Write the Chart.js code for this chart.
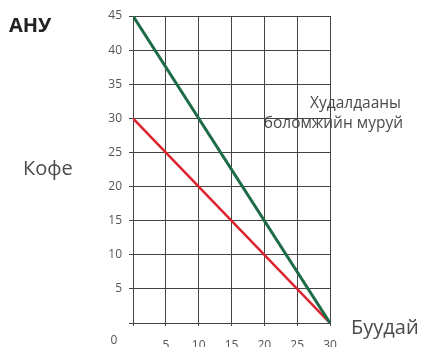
<!DOCTYPE html>
<html>
<head>
<meta charset="utf-8">
<script src="https://cdn.jsdelivr.net/npm/chart.js@4/dist/chart.umd.min.js"></script>
<style>
html,body{margin:0;padding:0;background:#fff;}
#wrap{width:423px;height:347px;position:relative;}
</style>
</head>
<body>
<div id="wrap"><canvas id="c" width="423" height="347"></canvas></div>
<script>
// Data
const wheat = [0, 30];                 // Буудай (x)
const tradeCurve = [45, 0];            // Худалдааны боломжийн муруй (green)
const ppfCurve = [30, 0];              // red line
const xTicks = [0, 5, 10, 15, 20, 25, 30];
const yTicks = [0, 5, 10, 15, 20, 25, 30, 35, 40, 45];
const countryLabel = 'АНУ';
const yLabel = 'Кофе';
const xLabel = 'Буудай';
const curveLabel = ['Худалдааны', 'боломжийн муруй'];

const toPts = (xs, ys) => xs.map((x, i) => ({x: x, y: ys[i]}));

const textPlugin = {
  id: 'texts',
  afterDraw(chart) {
    const ctx = chart.ctx;
    ctx.save();
    ctx.textBaseline = 'middle';
    ctx.fillStyle = '#222';
    ctx.font = 'bold 20px "Open Sans"';
    ctx.textAlign = 'left';
    ctx.fillText(countryLabel, 9, 26);
    ctx.fillStyle = '#4a4a4a';
    ctx.font = '20px "Open Sans"';
    ctx.fillText(yLabel, 23, 169);
    ctx.fillText(xLabel, 351, 328);
    ctx.font = '15.5px "Open Sans"';
    ctx.textAlign = 'right';
    ctx.fillText(curveLabel[0], 401, 104);
    ctx.fillText(curveLabel[1], 403, 124);
    ctx.fillStyle = '#555';
    ctx.font = '12px "Open Sans"';
    ctx.textAlign = 'center';
    ctx.fillText(String(xTicks[0]), 114, 341);
    ctx.restore();
  }
};

new Chart(document.getElementById('c'), {
  type: 'scatter',
  data: {
    datasets: [
      {
        data: toPts(wheat, tradeCurve),
        showLine: true,
        borderColor: '#1e6b47',
        borderWidth: 3,
        pointRadius: 0,
        tension: 0
      },
      {
        data: toPts(wheat, ppfCurve),
        showLine: true,
        borderColor: '#dc2430',
        borderWidth: 2.5,
        pointRadius: 0,
        tension: 0
      }
    ]
  },
  options: {
    responsive: false,
    animation: false,
    devicePixelRatio: 1,
    layout: {padding: {left: 0, right: 93, top: 16, bottom: 0}},
    plugins: {legend: {display: false}, tooltip: {enabled: false}},
    scales: {
      x: {
        type: 'linear',
        min: 0, max: 30,
        afterBuildTicks: (s) => { s.ticks = xTicks.map(v => ({value: v})); },
        afterFit: (s) => { s.height = 24; },
        grid: {color: '#444', lineWidth: 1, tickLength: 3, drawTicks: true},
        border: {color: '#444', width: 1},
        ticks: {
          color: '#555',
          font: {family: 'Open Sans', size: 12},
          padding: 12,
          maxRotation: 0,
          callback: (v) => v === 0 ? '' : v
        }
      },
      y: {
        type: 'linear',
        min: 0, max: 45,
        afterBuildTicks: (s) => { s.ticks = yTicks.map(v => ({value: v})); },
        afterFit: (s) => { s.width = 133; },
        grid: {color: '#444', lineWidth: 1, tickLength: 4},
        border: {color: '#444', width: 1},
        ticks: {
          color: '#555',
          font: {family: 'Open Sans', size: 12},
          padding: 7,
          callback: (v) => v === 0 ? '' : v
        }
      }
    }
  },
  plugins: [textPlugin]
});
</script>
</body>
</html>
